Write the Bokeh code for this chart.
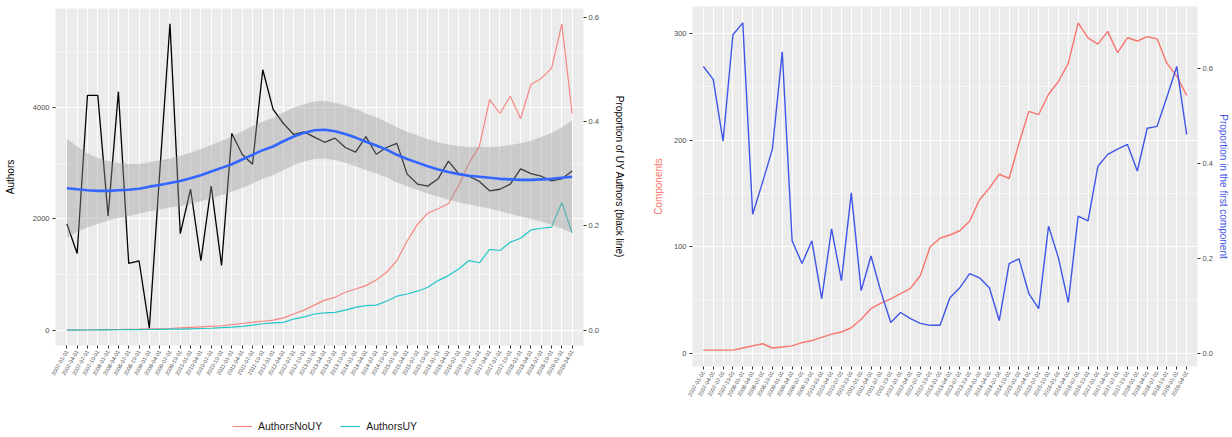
import math
from bokeh.plotting import figure
from bokeh.models import (FactorRange, Range1d, LinearAxis, FixedTicker, Legend,
                          LegendItem, PrintfTickFormatter)
from bokeh.layouts import row, column
from bokeh.embed import file_html
from bokeh.resources import INLINE

# ---------------- data ----------------
periods = [
    "2007-01-01", "2007-04-01", "2007-07-01", "2007-10-01",
    "2008-01-01", "2008-04-01", "2008-07-01", "2008-10-01",
    "2009-01-01", "2009-04-01", "2009-07-01", "2009-10-01",
    "2010-01-01", "2010-04-01", "2010-07-01", "2010-10-01",
    "2011-01-01", "2011-04-01", "2011-07-01", "2011-10-01",
    "2012-01-01", "2012-04-01", "2012-07-01", "2012-10-01",
    "2013-01-01", "2013-04-01", "2013-07-01", "2013-10-01",
    "2014-01-01", "2014-04-01", "2014-07-01", "2014-10-01",
    "2015-01-01", "2015-04-01", "2015-07-01", "2015-10-01",
    "2016-01-01", "2016-04-01", "2016-07-01", "2016-10-01",
    "2017-01-01", "2017-04-01", "2017-07-01", "2017-10-01",
    "2018-01-01", "2018-04-01", "2018-07-01", "2018-10-01",
    "2019-01-01", "2019-04-01",
]

authors_no_uy = [0, 3, 5, 8, 10, 12, 15, 18, 22, 25,
                 30, 40, 50, 60, 70, 80, 100, 120, 140, 160,
                 180, 220, 290, 360, 450, 540, 590, 680, 740, 800,
                 900, 1040, 1250, 1600, 1900, 2100, 2180, 2270, 2600, 3000,
                 3300, 4140, 3890, 4200, 3800, 4410, 4520, 4700, 5500, 3890]

authors_uy = [0, 2, 3, 5, 5, 8, 10, 10, 12, 15,
              18, 20, 25, 30, 35, 45, 55, 70, 90, 115,
              130, 140, 200, 240, 290, 310, 320, 360, 410, 440,
              450, 520, 610, 650, 700, 770, 890, 980, 1100, 1250,
              1210, 1450, 1430, 1580, 1650, 1800, 1830, 1850, 2290, 1750]

prop_uy = [0.204, 0.147, 0.450, 0.450, 0.219, 0.457, 0.128, 0.133, 0.004, 0.300,
           0.587, 0.185, 0.270, 0.133, 0.276, 0.124, 0.377, 0.337, 0.318, 0.499,
           0.423, 0.396, 0.375, 0.380, 0.370, 0.360, 0.368, 0.350, 0.341, 0.371,
           0.337, 0.350, 0.358, 0.299, 0.280, 0.276, 0.290, 0.324, 0.300, 0.295,
           0.285, 0.267, 0.270, 0.280, 0.309, 0.300, 0.295, 0.286, 0.290, 0.305]

smooth_fit = [0.272, 0.270, 0.268, 0.267, 0.267, 0.268, 0.269, 0.271, 0.275, 0.278,
              0.282, 0.286, 0.291, 0.297, 0.304, 0.311, 0.318, 0.327, 0.336, 0.345,
              0.352, 0.362, 0.371, 0.378, 0.383, 0.384, 0.381, 0.376, 0.369, 0.361,
              0.354, 0.346, 0.336, 0.328, 0.321, 0.314, 0.308, 0.303, 0.299, 0.296,
              0.294, 0.292, 0.290, 0.289, 0.288, 0.288, 0.289, 0.290, 0.292, 0.294]

smooth_halfwidth = [0.095, 0.082, 0.071, 0.063, 0.057, 0.053, 0.050, 0.048, 0.047, 0.047,
                    0.047, 0.048, 0.049, 0.050, 0.051, 0.052, 0.053, 0.054, 0.055, 0.055,
                    0.055, 0.055, 0.055, 0.055, 0.055, 0.055, 0.055, 0.055, 0.055, 0.054,
                    0.054, 0.053, 0.053, 0.052, 0.052, 0.052, 0.052, 0.053, 0.054, 0.055,
                    0.057, 0.059, 0.062, 0.066, 0.070, 0.075, 0.081, 0.088, 0.097, 0.108]

components = [3, 3, 3, 3, 5, 7, 9, 5, 6, 7,
              10, 12, 15, 18, 20, 24, 32, 42, 47, 51,
              56, 61, 73, 100, 108, 111, 115, 124, 144, 155,
              168, 164, 197, 227, 224, 243, 255, 272, 310, 296,
              290, 302, 282, 296, 293, 297, 295, 272, 260, 242]

prop_first = [0.604, 0.577, 0.447, 0.671, 0.696, 0.293, 0.360, 0.430, 0.635, 0.237,
              0.189, 0.237, 0.115, 0.262, 0.153, 0.338, 0.132, 0.205, 0.130, 0.065,
              0.086, 0.073, 0.063, 0.059, 0.059, 0.117, 0.138, 0.168, 0.159, 0.138,
              0.069, 0.189, 0.199, 0.126, 0.094, 0.268, 0.201, 0.107, 0.289, 0.279,
              0.394, 0.419, 0.430, 0.440, 0.384, 0.474, 0.478, 0.540, 0.604, 0.461]

left_ticks = [0, 2000, 4000]
left_minor = [1000, 3000, 5000]
prop_ticks = [0.0, 0.2, 0.4, 0.6]
comp_ticks = [0, 100, 200, 300]
comp_minor = [50, 150, 250]

# ---------------- styling ----------------
FONT = "Liberation Sans"
PANEL = "#EBEBEB"
TICKCOL = "#4D4D4D"
TOTAL_H = 434
LEG_H = 16
W1 = 630
W2 = 602


def style_axis(ax, tick_size="7.5px"):
    ax.axis_line_color = None
    ax.major_tick_line_color = "#333333"
    ax.major_tick_out = 3
    ax.major_tick_in = 0
    ax.minor_tick_line_color = None
    ax.major_label_text_font = FONT
    ax.major_label_text_font_size = tick_size
    ax.major_label_text_color = TICKCOL
    ax.major_label_standoff = 2
    ax.axis_label_text_font = FONT
    ax.axis_label_text_font_size = "10px"
    ax.axis_label_text_font_style = "normal"
    ax.axis_label_text_color = "black"


def base_fig(width, height, ylo, yhi, mbl, mbr, mbt, mbb):
    p = figure(width=width, height=height,
               x_range=FactorRange(factors=periods, range_padding=0.6,
                                   range_padding_units="absolute"),
               y_range=Range1d(ylo, yhi),
               output_backend="svg", toolbar_location=None,
               min_border_left=mbl, min_border_right=mbr,
               min_border_top=mbt, min_border_bottom=mbb,
               background_fill_color=PANEL, border_fill_color="white",
               outline_line_color=None)
    p.xgrid.grid_line_color = "white"
    p.xgrid.grid_line_width = 1
    p.ygrid.grid_line_color = "white"
    p.ygrid.grid_line_width = 1
    p.ygrid.minor_grid_line_color = "white"
    p.ygrid.minor_grid_line_width = 0.5
    style_axis(p.xaxis[0], "5.5px")
    p.xaxis.major_label_orientation = math.radians(60)
    style_axis(p.yaxis[0])
    return p


# ---------------- left chart ----------------
lo1 = min(min(authors_no_uy), min(authors_uy))
hi1 = max(authors_no_uy)
pad1 = (hi1 - lo1) * 0.05
k1 = hi1 / max(prop_uy)

H1 = TOTAL_H - LEG_H          # 418
p1 = base_fig(W1, H1, lo1 - pad1, hi1 + pad1, 55, 47, 8, H1 - 345)
p1.extra_y_ranges = {"prop": Range1d((lo1 - pad1) / k1, (hi1 + pad1) / k1)}
p1.yaxis[0].ticker = FixedTicker(ticks=left_ticks, minor_ticks=left_minor)
p1.ygrid.ticker = FixedTicker(ticks=left_ticks, minor_ticks=left_minor)
p1.yaxis[0].axis_label = "Authors"
p1.yaxis[0].axis_label_standoff = 14

COL_NO = "#F8766D"
COL_UY = "#00BFC4"
p1.line(periods, authors_no_uy, line_color=COL_NO, line_width=1.2, line_alpha=0.85)
p1.line(periods, authors_uy, line_color=COL_UY, line_width=1.2, line_alpha=0.85)
p1.line(periods, prop_uy, y_range_name="prop", line_color="black", line_width=1.3)
band_lo = [f - h for f, h in zip(smooth_fit, smooth_halfwidth)]
band_hi = [f + h for f, h in zip(smooth_fit, smooth_halfwidth)]
p1.varea(x=periods, y1=band_lo, y2=band_hi, y_range_name="prop",
         fill_color="#999999", fill_alpha=0.4)
p1.line(periods, smooth_fit, y_range_name="prop", line_color="#3366FF", line_width=2.6)

ax1r = LinearAxis(y_range_name="prop", ticker=FixedTicker(ticks=prop_ticks),
                  formatter=PrintfTickFormatter(format="%.1f"),
                  axis_label="Proportion of UY Authors (black line)")
style_axis(ax1r)
ax1r.axis_label_standoff = 12
p1.add_layout(ax1r, "right")

# legend strip under the left chart (the series are drawn outside its visible range,
# so only the legend keys show)
leg = figure(width=W1, height=LEG_H,
             x_range=FactorRange(factors=periods), y_range=Range1d(-2, -1),
             output_backend="svg", toolbar_location=None,
             x_axis_location=None, y_axis_location=None,
             min_border=0, outline_line_color=None,
             background_fill_color="white", border_fill_color="white")
leg.xgrid.visible = False
leg.ygrid.visible = False
k_no = leg.line(periods, authors_no_uy, line_color=COL_NO, line_width=1.2, line_alpha=0.85)
k_uy = leg.line(periods, authors_uy, line_color=COL_UY, line_width=1.2, line_alpha=0.85)
legend = Legend(items=[LegendItem(label="AuthorsNoUY", renderers=[k_no]),
                       LegendItem(label="AuthorsUY", renderers=[k_uy])],
                location=(177, 0), orientation="horizontal",
                label_text_font=FONT, label_text_font_size="10.5px",
                label_text_color="#1a1a1a", glyph_width=20, glyph_height=16,
                label_standoff=6, spacing=18, padding=0, margin=0,
                label_height=16,
                background_fill_alpha=0, border_line_color=None)
leg.add_layout(legend)

# ---------------- right chart ----------------
lo2 = min(components)
hi2 = max(components)
pad2 = (hi2 - lo2) * 0.05
k2 = hi2 / max(prop_first)

p2 = base_fig(W2, TOTAL_H, lo2 - pad2, hi2 + pad2, 62, 35, 6, TOTAL_H - 366)
p2.extra_y_ranges = {"prop": Range1d((lo2 - pad2) / k2, (hi2 + pad2) / k2)}
p2.yaxis[0].ticker = FixedTicker(ticks=comp_ticks, minor_ticks=comp_minor)
p2.ygrid.ticker = FixedTicker(ticks=comp_ticks, minor_ticks=comp_minor)
p2.yaxis[0].axis_label = "Components"
p2.yaxis[0].axis_label_text_color = "#F8766D"
p2.yaxis[0].axis_label_standoff = 7

p2.line(periods, components, line_color="#F8766D", line_width=1.4)
p2.line(periods, prop_first, y_range_name="prop", line_color="#3F55E6", line_width=1.4)

ax2r = LinearAxis(y_range_name="prop", ticker=FixedTicker(ticks=prop_ticks),
                  formatter=PrintfTickFormatter(format="%.1f"),
                  axis_label="Proportion in the first component")
style_axis(ax2r)
ax2r.axis_label_standoff = 2
ax2r.axis_label_text_color = "#3F55E6"
p2.add_layout(ax2r, "right")

layout = row(column(p1, leg), p2)
open("out.html", "w").write(file_html(layout, INLINE))
